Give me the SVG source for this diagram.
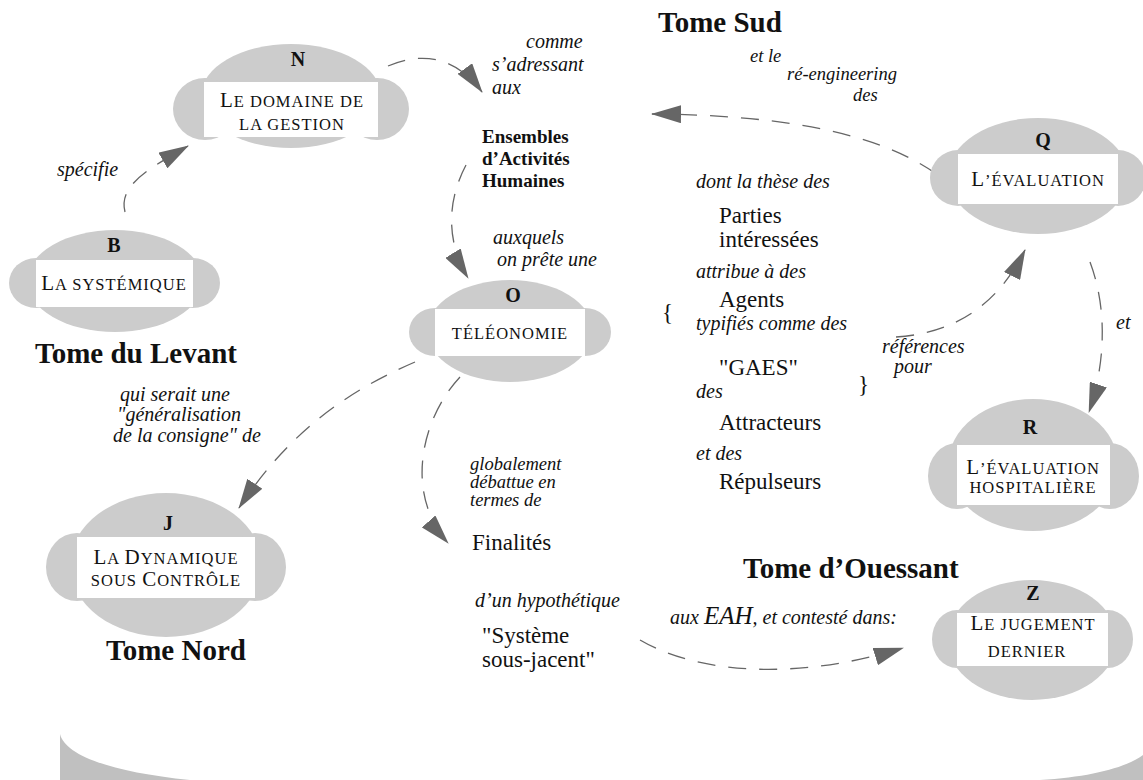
<svg xmlns="http://www.w3.org/2000/svg" width="1143" height="780" viewBox="0 0 1143 780">
<style>
.blob{fill:#cccccc}
.box{fill:#ffffff}
.let{font-family:"Liberation Serif",serif;font-weight:bold;font-size:20px;fill:#111;text-anchor:middle}
.sc{font-family:"Liberation Serif",serif;font-size:16.5px;fill:#111;text-anchor:middle;letter-spacing:1px}
.sc .c{font-size:21px}
.it{font-family:"Liberation Serif",serif;font-style:italic;font-size:20px;fill:#111}
.its{font-family:"Liberation Serif",serif;font-style:italic;font-size:18.5px;fill:#111}
.rg{font-family:"Liberation Serif",serif;font-size:23px;fill:#111}
.bd{font-family:"Liberation Serif",serif;font-weight:bold;font-size:19px;fill:#111}
.tome{font-family:"Liberation Serif",serif;font-weight:bold;font-size:29px;fill:#111}
.con{fill:none;stroke:#666;stroke-width:1.3;stroke-dasharray:18 13;marker-end:url(#ah)}
</style>
<defs>
<marker id="ah" markerUnits="userSpaceOnUse" markerWidth="30" markerHeight="18" viewBox="0 0 30 18" refX="29" refY="9" orient="auto">
<path d="M0,0 L30,9 L0,18 Z" fill="#666"/>
</marker>
</defs>

<path d="M60,734 C65,755 110,772 190,780 L60,780 Z M1040,780 C1090,777 1125,768 1143,755 L1143,780 Z" fill="#c0c0c0"/>

<g id="connectors">
<path class="con" d="M125,212 C118,185 150,168 188,146"/>
<path class="con" d="M388,66 C420,52 455,55 482,92"/>
<path class="con" d="M466,165 C445,205 448,245 468,278"/>
<path class="con" d="M415,362 C350,390 290,430 239,508"/>
<path class="con" d="M460,377 C420,420 405,495 448,543"/>
<path class="con" d="M935,173 C880,135 790,115 652,114"/>
<path class="con" d="M1090,262 C1108,310 1105,365 1089,412"/>
<path class="con" d="M896,337 C960,333 1000,300 1025,250"/>
<path class="con" d="M640,640 C700,675 800,680 903,648"/>
</g>

<g id="node-N">
<ellipse class="blob" cx="291" cy="96" rx="90" ry="52"/>
<ellipse class="blob" cx="205" cy="109" rx="32" ry="31"/>
<ellipse class="blob" cx="377" cy="109" rx="32" ry="31"/>
<rect class="box" x="204" y="82" width="174" height="55"/>
<text class="let" x="298" y="66">N</text>
<text class="sc" x="292" y="107"><tspan class="c">L</tspan>E DOMAINE DE</text>
<text class="sc" x="292" y="130">LA GESTION</text>
</g>

<g id="node-B">
<ellipse class="blob" cx="115" cy="281" rx="88" ry="51"/>
<ellipse class="blob" cx="36" cy="283" rx="27" ry="25"/>
<ellipse class="blob" cx="193" cy="283" rx="27" ry="25"/>
<rect class="box" x="36" y="260" width="157" height="47"/>
<text class="let" x="114" y="252">B</text>
<text class="sc" x="114" y="290"><tspan class="c">L</tspan>A SYSTÉMIQUE</text>
</g>

<g id="node-O">
<ellipse class="blob" cx="510" cy="331" rx="83" ry="51"/>
<ellipse class="blob" cx="435" cy="332" rx="26" ry="24"/>
<ellipse class="blob" cx="585" cy="332" rx="26" ry="24"/>
<rect class="box" x="435" y="309" width="150" height="47"/>
<text class="let" x="513" y="302">O</text>
<text class="sc" x="510" y="339">TÉLÉONOMIE</text>
</g>

<g id="node-J">
<ellipse class="blob" cx="166" cy="565" rx="96" ry="72"/>
<ellipse class="blob" cx="77" cy="567" rx="31" ry="34"/>
<ellipse class="blob" cx="255" cy="567" rx="31" ry="34"/>
<rect class="box" x="77" y="537" width="178" height="61"/>
<text class="let" x="168" y="530">J</text>
<text class="sc" x="166" y="564"><tspan class="c">L</tspan>A <tspan class="c">D</tspan>YNAMIQUE</text>
<text class="sc" x="166" y="586">SOUS <tspan class="c">C</tspan>ONTRÔLE</text>
</g>

<g id="node-Q">
<ellipse class="blob" cx="1038" cy="176" rx="90" ry="58"/>
<ellipse class="blob" cx="958" cy="178" rx="28" ry="28"/>
<ellipse class="blob" cx="1118" cy="178" rx="28" ry="28"/>
<rect class="box" x="958" y="154" width="160" height="50"/>
<text class="let" x="1043" y="147">Q</text>
<text class="sc" x="1038" y="186"><tspan class="c">L</tspan>’ÉVALUATION</text>
</g>

<g id="node-R">
<ellipse class="blob" cx="1033" cy="465" rx="85" ry="66"/>
<ellipse class="blob" cx="957" cy="476" rx="29" ry="33"/>
<ellipse class="blob" cx="1110" cy="476" rx="29" ry="33"/>
<rect class="box" x="957" y="445" width="153" height="60"/>
<text class="let" x="1030" y="434">R</text>
<text class="sc" x="1033" y="474"><tspan class="c">L</tspan>’ÉVALUATION</text>
<text class="sc" x="1033" y="493">HOSPITALIÈRE</text>
</g>

<g id="node-Z">
<ellipse class="blob" cx="1032" cy="640" rx="85" ry="60"/>
<ellipse class="blob" cx="957" cy="639" rx="25" ry="29"/>
<ellipse class="blob" cx="1108" cy="639" rx="25" ry="29"/>
<rect class="box" x="957" y="613" width="151" height="53"/>
<text class="let" x="1033" y="600">Z</text>
<text class="sc" x="1033" y="630"><tspan class="c">L</tspan>E JUGEMENT</text>
<text class="sc" x="1027" y="657">DERNIER</text>
</g>

<g id="labels">
<text class="tome" x="658" y="32">Tome Sud</text>
<text class="tome" x="35" y="363">Tome du Levant</text>
<text class="tome" x="106" y="660">Tome Nord</text>
<text class="tome" x="743" y="578">Tome d’Ouessant</text>

<text class="it" x="57" y="176">spécifie</text>
<text class="it" x="526" y="48">comme</text>
<text class="it" x="492" y="71">s’adressant</text>
<text class="it" x="492" y="94">aux</text>
<text class="bd" x="482" y="143">Ensembles</text>
<text class="bd" x="482" y="165">d’Activités</text>
<text class="bd" x="482" y="187">Humaines</text>
<text class="it" x="493" y="244">auxquels</text>
<text class="it" x="497" y="266">on prête une</text>

<text class="its" x="750" y="62">et le</text>
<text class="its" x="787" y="80">ré-engineering</text>
<text class="its" x="853" y="101">des</text>

<text class="it" x="696" y="188">dont la thèse des</text>
<text class="rg" x="719" y="223">Parties</text>
<text class="rg" x="719" y="247">intéressées</text>
<text class="it" x="696" y="278">attribue à des</text>
<text class="rg" x="662" y="320">{</text>
<text class="rg" x="719" y="307">Agents</text>
<text class="it" x="696" y="330">typifiés comme des</text>
<text class="rg" x="719" y="375">"GAES"</text>
<text class="it" x="696" y="398">des</text>
<text class="rg" x="858" y="392">}</text>
<text class="rg" x="719" y="430">Attracteurs</text>
<text class="it" x="696" y="460">et des</text>
<text class="rg" x="719" y="489">Répulseurs</text>

<text class="it" x="882" y="353">références</text>
<text class="it" x="894" y="373">pour</text>
<text class="it" x="1116" y="329">et</text>

<text class="it" x="120" y="401">qui serait une</text>
<text class="it" x="117" y="421">"généralisation</text>
<text class="it" x="113" y="442">de la consigne" de</text>

<text class="its" x="470" y="470">globalement</text>
<text class="its" x="470" y="488">débattue en</text>
<text class="its" x="470" y="506">termes de</text>
<text class="rg" x="472" y="550">Finalités</text>
<text class="it" x="475" y="607">d’un hypothétique</text>
<text class="rg" x="482" y="643">"Système</text>
<text class="rg" x="482" y="667">sous-jacent"</text>
<text class="it" x="670" y="624" font-size="21.5">aux <tspan font-size="25">EAH</tspan>, et contesté dans:</text>
</g>
</svg>
